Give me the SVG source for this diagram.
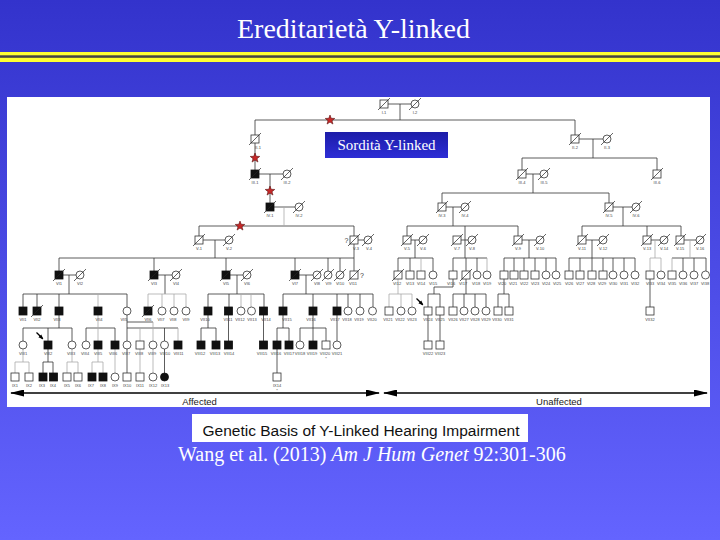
<svg xmlns="http://www.w3.org/2000/svg" width="720" height="540" viewBox="0 0 720 540">
<style>
.u{fill:#fff;stroke:#333;stroke-width:.8}
.f{fill:#111;stroke:#111;stroke-width:.8}
.cn{fill:none;stroke:#333;stroke-width:.8}
.lt{fill:none;stroke:#aaa;stroke-width:.8}
.lb{font-family:"Liberation Sans",Arial,sans-serif;font-size:4px;fill:#444;text-anchor:middle}
.q{font-family:"Liberation Sans",Arial,sans-serif;font-size:7px;fill:#333;text-anchor:middle}
.st{fill:#c62828;stroke:#5a0f0f;stroke-width:.6}
.ax{fill:none;stroke:#000;stroke-width:1.5}
.pb{fill:none;stroke:#000;stroke-width:1.3}
</style>
<defs>
<linearGradient id="bg" x1="0" y1="0" x2="0" y2="1"><stop offset="0" stop-color="#3333cc"/><stop offset="1" stop-color="#6464ff"/></linearGradient>
<linearGradient id="bx" x1="0" y1="0" x2="0" y2="1"><stop offset="0" stop-color="#1c1ca8"/><stop offset="1" stop-color="#2e2ed6"/></linearGradient>
<rect id="s" x="-4" y="-4" width="8" height="8"/>
<circle id="c" r="4"/>
<path id="d" d="M-6,6L6,-6" stroke="#222" stroke-width=".7" fill="none"/>
<path id="star" d="M0,-5L1.23,-1.7L4.76,-1.55L2,0.65L2.94,4.05L0,2.1L-2.94,4.05L-2,0.65L-4.76,-1.55L-1.23,-1.7Z"/>
<marker id="ah" viewBox="0 0 14 7" refX="13" refY="3.5" markerWidth="14" markerHeight="7" markerUnits="userSpaceOnUse" orient="auto-start-reverse"><path d="M0,0L14,3.5L0,7Z" fill="#000"/></marker>
<marker id="pa" viewBox="0 0 6 5" refX="5" refY="2.5" markerWidth="5" markerHeight="4.5" markerUnits="userSpaceOnUse" orient="auto"><path d="M0,0L6,2.5L0,5Z" fill="#000"/></marker>
</defs>
<rect x="0" y="0" width="720" height="540" fill="url(#bg)"/>
<text x="353.5" y="38" font-family="Liberation Serif, serif" font-size="28" fill="#fff" text-anchor="middle">Ereditarietà Y-linked</text>
<rect x="0" y="52" width="720" height="10" fill="#ffff33"/>
<rect x="0" y="55.3" width="720" height="2.5" fill="#444"/>
<rect x="7" y="97" width="703" height="310" fill="#fff"/>

<g id="connectors">
<path class="cn" d="M388,104H411M400,104V120M255,120H575M255,120V135M575,120V135
M255,143V170M579,139H603M593,139V158M522,158H657M522,158V170M657,158V170
M259,174H283M270,174V203M526,174H540M533,174V193M442,193H609M442,193V203M609,193V203
M274,207H295M199,226H354M199,226V236M354,226V236
M446,207H461M453,207V226M407,226H518M407,226V236M518,226V236M465,226V258
M613,207H632M623,207V226M582,226H681M582,226V236M647,226V236M681,226V236
M203,240H225M215,240V258M59,258H354M59,258V271M154,258V271M226,258V271M295,258V271M328,258V271M340,258V271
M358,240H364M354,244V271
M411,240H419M415,240V258M398,258H433M398,258V271M410,258V271M433,258V271
M461,240H468M453,258H487M453,258V271M466,258V271M477,258V271
M522,240H536M529,240V258M504,258H556M504,258V271M514,258V271M524,258V271M535,258V271M546,258V271M556,258V271
M586,240H599M592,240V258M569,258H635M569,258V271M580,258V271M592,258V271M603,258V271M613,258V271M624,258V271M635,258V271
M651,240H660M684,240H696M672,258H706M683,258V271M694,258V271M706,258V271
M63,275H76M69,275V294M23,294H127M23,294V307M37,294V307M59,294V307M127,294V307
M158,275H172M165,275V294
M230,275H243M237,275V294M208,294H264M208,294V307M229,294V307M264,294V307
M299,275H313M306,275V294M283,294H373M283,294V307M313,294V307M337,294V307M348,294V307M360,294V307M373,294V307
M453,279V287H434V294M428,294H440M428,294V307M440,294V307
M466,279V294M453,294H486M453,294V307M464,294V307M475,294V307M486,294V307
M504,279V294M498,294H509M498,294V307M509,294V307
M650,279V307
M59,315V328M23,328H72M23,328V341M48,328V341M72,328V341
M86,328H115M86,328V341M115,328V341
M127,315V341M127,322H153M127,328H178M164.5,328V341
M208,315V328M201,328H216M201,328V341M216,328V341
M228.5,315V341M263.5,315V341
M283,315V328M277,328H289M277,328V341M289,328V341
M313,315V328M300,328H326M300,328V341M313,328V341M326,328V341
M337,315V341M428,315V341M440,315V341
M48,349V362M43,362H53M43,362V373M53,362V373
M127,349V373M164.5,349V373M277,349V373"/>
<path class="lt" d="M284,207V226M421,258V271M487,258V271
M655,240V258M650,258H661M650,258V271M661,258V271M690,240V258M672,258V271
M98,294V307M98,315V341M148,294H186M148,294V307M162,294V307M174,294V307M186,294V307
M241,294V307M251,294V307
M398,279V294M389,294H412M389,294V307M401,294V307M412,294V307
M140,328V341M153,322V341M178,328V341
M23,349V362M15,362H29M15,362V373M29,362V373M72,349V362M67,362H78M67,362V373M78,362V373
M98,349V362M92,362H103M92,362V373M103,362V373M115,349V373M140,349V373M153,349V373"/>
</g>

<g id="stars" class="st">
<use href="#star" x="330" y="120"/>
<use href="#star" x="255" y="158"/>
<use href="#star" x="270" y="191"/>
<use href="#star" x="240" y="226"/>
</g>

<g id="nodes">
<g id="I-1"><use href="#s" x="384" y="104" class="u"/><use href="#d" x="384" y="104"/><text class="lb" x="384" y="113.5">I-1</text></g>
<g id="I-2"><use href="#c" x="415" y="104" class="u"/><use href="#d" x="415" y="104"/><text class="lb" x="415" y="113.5">I-2</text></g>
<g id="II-1"><use href="#s" x="255" y="139" class="u"/><use href="#d" x="255" y="139"/><text class="lb" x="258" y="148.5">II-1</text></g>
<g id="II-2"><use href="#s" x="575" y="139" class="u"/><use href="#d" x="575" y="139"/><text class="lb" x="575" y="148.5">II-2</text></g>
<g id="II-3"><use href="#c" x="607" y="139" class="u"/><use href="#d" x="607" y="139"/><text class="lb" x="607" y="148.5">II-3</text></g>
<g id="III-1"><use href="#s" x="255" y="174" class="f"/><use href="#d" x="255" y="174"/><text class="lb" x="255" y="183.5">III-1</text></g>
<g id="III-2"><use href="#c" x="287" y="174" class="u"/><use href="#d" x="287" y="174"/><text class="lb" x="287" y="183.5">III-2</text></g>
<g id="III-4"><use href="#s" x="522" y="174" class="u"/><use href="#d" x="522" y="174"/><text class="lb" x="522" y="183.5">III-4</text></g>
<g id="III-5"><use href="#c" x="544" y="174" class="u"/><use href="#d" x="544" y="174"/><text class="lb" x="544" y="183.5">III-5</text></g>
<g id="III-6"><use href="#s" x="657" y="174" class="u"/><use href="#d" x="657" y="174"/><text class="lb" x="657" y="183.5">III-6</text></g>
<g id="IV-1"><use href="#s" x="270" y="207" class="f"/><use href="#d" x="270" y="207"/><text class="lb" x="270" y="216.5">IV-1</text></g>
<g id="IV-2"><use href="#c" x="299" y="207" class="u"/><use href="#d" x="299" y="207"/><text class="lb" x="299" y="216.5">IV-2</text></g>
<g id="IV-3"><use href="#s" x="442" y="207" class="u"/><use href="#d" x="442" y="207"/><text class="lb" x="442" y="216.5">IV-3</text></g>
<g id="IV-4"><use href="#c" x="465" y="207" class="u"/><use href="#d" x="465" y="207"/><text class="lb" x="465" y="216.5">IV-4</text></g>
<g id="IV-5"><use href="#s" x="609" y="207" class="u"/><use href="#d" x="609" y="207"/><text class="lb" x="609" y="216.5">IV-5</text></g>
<g id="IV-6"><use href="#c" x="636" y="207" class="u"/><use href="#d" x="636" y="207"/><text class="lb" x="636" y="216.5">IV-6</text></g>
<g id="V-1"><use href="#s" x="199" y="240" class="u"/><use href="#d" x="199" y="240"/><text class="lb" x="199" y="249.5">V-1</text></g>
<g id="V-2"><use href="#c" x="229" y="240" class="u"/><use href="#d" x="229" y="240"/><text class="lb" x="229" y="249.5">V-2</text></g>
<g id="V-3"><use href="#s" x="354" y="240" class="u"/><use href="#d" x="354" y="240"/><text class="q" x="346.5" y="243">?</text><text class="lb" x="356" y="249.5">V-3</text></g>
<g id="V-4"><use href="#c" x="368" y="240" class="u"/><use href="#d" x="368" y="240"/><text class="lb" x="369" y="249.5">V-4</text></g>
<g id="V-5"><use href="#s" x="407" y="240" class="u"/><use href="#d" x="407" y="240"/><text class="lb" x="407" y="249.5">V-5</text></g>
<g id="V-6"><use href="#c" x="423" y="240" class="u"/><use href="#d" x="423" y="240"/><text class="lb" x="423" y="249.5">V-6</text></g>
<g id="V-7"><use href="#s" x="457" y="240" class="u"/><use href="#d" x="457" y="240"/><text class="lb" x="457" y="249.5">V-7</text></g>
<g id="V-8"><use href="#c" x="472" y="240" class="u"/><use href="#d" x="472" y="240"/><text class="lb" x="472" y="249.5">V-8</text></g>
<g id="V-9"><use href="#s" x="518" y="240" class="u"/><use href="#d" x="518" y="240"/><text class="lb" x="518" y="249.5">V-9</text></g>
<g id="V-10"><use href="#c" x="540" y="240" class="u"/><use href="#d" x="540" y="240"/><text class="lb" x="540" y="249.5">V-10</text></g>
<g id="V-11"><use href="#s" x="582" y="240" class="u"/><use href="#d" x="582" y="240"/><text class="lb" x="582" y="249.5">V-11</text></g>
<g id="V-12"><use href="#c" x="603" y="240" class="u"/><use href="#d" x="603" y="240"/><text class="lb" x="603" y="249.5">V-12</text></g>
<g id="V-13"><use href="#s" x="647" y="240" class="u"/><use href="#d" x="647" y="240"/><text class="lb" x="647" y="249.5">V-13</text></g>
<g id="V-14"><use href="#c" x="664" y="240" class="u"/><use href="#d" x="664" y="240"/><text class="lb" x="664" y="249.5">V-14</text></g>
<g id="V-15"><use href="#s" x="680" y="240" class="u"/><use href="#d" x="680" y="240"/><text class="lb" x="680" y="249.5">V-15</text></g>
<g id="V-16"><use href="#c" x="700" y="240" class="u"/><use href="#d" x="700" y="240"/><text class="lb" x="700" y="249.5">V-16</text></g>

<g id="VI-1"><use href="#s" x="59" y="275" class="f"/><use href="#d" x="59" y="275"/><text class="lb" x="59" y="284.5">VI1</text></g>
<g id="VI-2"><use href="#c" x="80" y="275" class="u"/><use href="#d" x="80" y="275"/><text class="lb" x="80" y="284.5">VI2</text></g>
<g id="VI-3"><use href="#s" x="154" y="275" class="f"/><use href="#d" x="154" y="275"/><text class="lb" x="154" y="284.5">VI3</text></g>
<g id="VI-4"><use href="#c" x="176" y="275" class="u"/><use href="#d" x="176" y="275"/><text class="lb" x="176" y="284.5">VI4</text></g>
<g id="VI-5"><use href="#s" x="226" y="275" class="f"/><use href="#d" x="226" y="275"/><text class="lb" x="226" y="284.5">VI5</text></g>
<g id="VI-6"><use href="#c" x="247" y="275" class="u"/><use href="#d" x="247" y="275"/><text class="lb" x="247" y="284.5">VI6</text></g>
<g id="VI-7"><use href="#s" x="295" y="275" class="f"/><use href="#d" x="295" y="275"/><text class="lb" x="295" y="284.5">VI7</text></g>
<g id="VI-8"><use href="#c" x="317" y="275" class="u"/><use href="#d" x="317" y="275"/><text class="lb" x="317" y="284.5">VI8</text></g>
<g id="VI-9"><use href="#c" x="328" y="275" class="u"/><use href="#d" x="328" y="275"/><text class="lb" x="328.5" y="284.5">VI9</text></g>
<g id="VI-10"><use href="#c" x="340" y="275" class="u"/><use href="#d" x="340" y="275"/><text class="lb" x="340" y="284.5">VI10</text></g>
<g id="VI-11"><use href="#s" x="354" y="275" class="u"/><use href="#d" x="354" y="275"/><text class="q" x="362" y="278">?</text><text class="lb" x="353" y="284.5">VI11</text></g>
<g id="VI-12"><use href="#s" x="398" y="275" class="u"/><use href="#d" x="398" y="275"/><text class="lb" x="397" y="284.5">VI12</text></g>
<g id="VI-13"><use href="#s" x="410" y="275" class="u"/><text class="lb" x="410" y="284.5">VI13</text></g>
<g id="VI-14"><use href="#s" x="421" y="275" class="u"/><text class="lb" x="421" y="284.5">VI14</text></g>
<g id="VI-15"><use href="#c" x="433" y="275" class="u"/><text class="lb" x="433" y="284.5">VI15</text></g>
<g id="VI-16"><use href="#s" x="453" y="275" class="u"/><text class="lb" x="451" y="284.5">VI16</text></g>
<g id="VI-17"><use href="#s" x="466" y="275" class="u"/><use href="#d" x="466" y="275"/><text class="lb" x="463" y="284.5">VI17</text></g>
<g id="VI-18"><use href="#c" x="477" y="275" class="u"/><text class="lb" x="476" y="284.5">VI18</text></g>
<g id="VI-19"><use href="#c" x="487" y="275" class="u"/><text class="lb" x="487" y="284.5">VI19</text></g>
<g id="VI-20"><use href="#s" x="504" y="275" class="u"/><text class="lb" x="502" y="284.5">VI20</text></g>
<g id="VI-21"><use href="#s" x="514" y="275" class="u"/><text class="lb" x="513" y="284.5">VI21</text></g>
<g id="VI-22"><use href="#s" x="524" y="275" class="u"/><text class="lb" x="524" y="284.5">VI22</text></g>
<g id="VI-23"><use href="#s" x="535" y="275" class="u"/><text class="lb" x="535" y="284.5">VI23</text></g>
<g id="VI-24"><use href="#c" x="546" y="275" class="u"/><text class="lb" x="546" y="284.5">VI24</text></g>
<g id="VI-25"><use href="#c" x="556" y="275" class="u"/><text class="lb" x="557" y="284.5">VI25</text></g>
<g id="VI-26"><use href="#s" x="569" y="275" class="u"/><text class="lb" x="569" y="284.5">VI26</text></g>
<g id="VI-27"><use href="#s" x="580" y="275" class="u"/><text class="lb" x="580" y="284.5">VI27</text></g>
<g id="VI-28"><use href="#s" x="592" y="275" class="u"/><text class="lb" x="591" y="284.5">VI28</text></g>
<g id="VI-29"><use href="#s" x="603" y="275" class="u"/><text class="lb" x="602" y="284.5">VI29</text></g>
<g id="VI-30"><use href="#c" x="613" y="275" class="u"/><text class="lb" x="613" y="284.5">VI30</text></g>
<g id="VI-31"><use href="#c" x="624" y="275" class="u"/><text class="lb" x="624" y="284.5">VI31</text></g>
<g id="VI-32"><use href="#c" x="635" y="275" class="u"/><text class="lb" x="635" y="284.5">VI32</text></g>
<g id="VI-33"><use href="#s" x="650" y="275" class="u"/><text class="lb" x="650" y="284.5">VI33</text></g>
<g id="VI-34"><use href="#c" x="661" y="275" class="u"/><text class="lb" x="661" y="284.5">VI34</text></g>
<g id="VI-35"><use href="#s" x="672" y="275" class="u"/><text class="lb" x="672" y="284.5">VI35</text></g>
<g id="VI-36"><use href="#c" x="683" y="275" class="u"/><text class="lb" x="683" y="284.5">VI36</text></g>
<g id="VI-37"><use href="#c" x="694" y="275" class="u"/><text class="lb" x="694" y="284.5">VI37</text></g>
<g id="VI-38"><use href="#c" x="705.5" y="275" class="u"/><text class="lb" x="705" y="284.5">VI38</text></g>

<g id="VII-1"><use href="#s" x="23" y="311" class="f"/><text class="lb" x="23" y="320.5">VII1</text></g>
<g id="VII-2"><use href="#s" x="37" y="311" class="f"/><use href="#d" x="37" y="311"/><text class="lb" x="37" y="320.5">VII2</text></g>
<g id="VII-3"><use href="#s" x="59" y="311" class="f"/><text class="lb" x="57" y="320.5">VII3</text></g>
<g id="VII-4"><use href="#s" x="98" y="311" class="f"/><text class="lb" x="99" y="320.5">VII4</text></g>
<g id="VII-5"><use href="#c" x="127" y="311" class="u"/><text class="lb" x="124" y="320.5">VII5</text></g>
<g id="VII-6"><use href="#s" x="148" y="311" class="f"/><use href="#d" x="148" y="311"/><text class="lb" x="148" y="320.5">VII6</text></g>
<g id="VII-7"><use href="#c" x="162" y="311" class="u"/><text class="lb" x="161" y="320.5">VII7</text></g>
<g id="VII-8"><use href="#c" x="174" y="311" class="u"/><text class="lb" x="173" y="320.5">VII8</text></g>
<g id="VII-9"><use href="#c" x="186" y="311" class="u"/><text class="lb" x="186" y="320.5">VII9</text></g>
<g id="VII-10"><use href="#s" x="208" y="311" class="f"/><text class="lb" x="205" y="320.5">VII10</text></g>
<g id="VII-11"><use href="#s" x="228.5" y="311" class="f"/><text class="lb" x="228" y="320.5">VII11</text></g>
<g id="VII-12"><use href="#c" x="241" y="311" class="u"/><text class="lb" x="240" y="320.5">VII12</text></g>
<g id="VII-13"><use href="#c" x="251.5" y="311" class="u"/><text class="lb" x="252" y="320.5">VII13</text></g>
<g id="VII-14"><use href="#s" x="263.5" y="311" class="f"/><text class="lb" x="266" y="320.5">VII14</text></g>
<g id="VII-15"><use href="#s" x="283" y="311" class="f"/><text class="lb" x="287" y="320.5">VII15</text></g>
<g id="VII-16"><use href="#s" x="313" y="311" class="f"/><text class="lb" x="311" y="320.5">VII16</text></g>
<g id="VII-17"><use href="#s" x="337" y="311" class="f"/><text class="lb" x="335" y="320.5">VII17</text></g>
<g id="VII-18"><use href="#c" x="348" y="311" class="u"/><text class="lb" x="347" y="320.5">VII18</text></g>
<g id="VII-19"><use href="#c" x="360" y="311" class="u"/><text class="lb" x="359" y="320.5">VII19</text></g>
<g id="VII-20"><use href="#c" x="372.5" y="311" class="u"/><text class="lb" x="372" y="320.5">VII20</text></g>
<g id="VII-21"><use href="#s" x="389" y="311" class="u"/><text class="lb" x="388" y="320.5">VII21</text></g>
<g id="VII-22"><use href="#c" x="401" y="311" class="u"/><text class="lb" x="400" y="320.5">VII22</text></g>
<g id="VII-23"><use href="#c" x="412" y="311" class="u"/><text class="lb" x="412" y="320.5">VII23</text></g>
<g id="VII-24"><use href="#s" x="428" y="311" class="u"/><text class="lb" x="428" y="320.5">VII24</text></g>
<g id="VII-25"><use href="#s" x="440" y="311" class="u"/><text class="lb" x="440" y="320.5">VII25</text></g>
<g id="VII-26"><use href="#s" x="453" y="311" class="u"/><text class="lb" x="453" y="320.5">VII26</text></g>
<g id="VII-27"><use href="#c" x="464" y="311" class="u"/><text class="lb" x="464" y="320.5">VII27</text></g>
<g id="VII-28"><use href="#c" x="475" y="311" class="u"/><text class="lb" x="475" y="320.5">VII28</text></g>
<g id="VII-29"><use href="#c" x="486" y="311" class="u"/><text class="lb" x="486" y="320.5">VII29</text></g>
<g id="VII-30"><use href="#s" x="498" y="311" class="u"/><text class="lb" x="497" y="320.5">VII30</text></g>
<g id="VII-31"><use href="#s" x="509" y="311" class="u"/><text class="lb" x="509" y="320.5">VII31</text></g>
<g id="VII-32"><use href="#s" x="650" y="311" class="u"/><text class="lb" x="650" y="320.5">VII32</text></g>

<g id="VIII-1"><use href="#c" x="23" y="345" class="u"/><text class="lb" x="23" y="354.5">VIII1</text></g>
<g id="VIII-2"><use href="#s" x="48" y="345" class="f"/><text class="lb" x="48" y="354.5">VIII2</text></g>
<g id="VIII-3"><use href="#c" x="72" y="345" class="u"/><text class="lb" x="71" y="354.5">VIII3</text></g>
<g id="VIII-4"><use href="#c" x="86" y="345" class="u"/><text class="lb" x="85" y="354.5">VIII4</text></g>
<g id="VIII-5"><use href="#s" x="98" y="345" class="f"/><text class="lb" x="98" y="354.5">VIII5</text></g>
<g id="VIII-6"><use href="#s" x="115" y="345" class="f"/><text class="lb" x="113" y="354.5">VIII6</text></g>
<g id="VIII-7"><use href="#c" x="127" y="345" class="u"/><text class="lb" x="126" y="354.5">VIII7</text></g>
<g id="VIII-8"><use href="#s" x="140" y="345" class="u"/><text class="lb" x="139" y="354.5">VIII8</text></g>
<g id="VIII-9"><use href="#c" x="153" y="345" class="u"/><text class="lb" x="152" y="354.5">VIII9</text></g>
<g id="VIII-10"><use href="#c" x="164.5" y="345" class="u"/><text class="lb" x="165" y="354.5">VIII10</text></g>
<g id="VIII-11"><use href="#s" x="178" y="345" class="f"/><text class="lb" x="178.5" y="354.5">VIII11</text></g>
<g id="VIII-12"><use href="#s" x="201" y="345" class="f"/><text class="lb" x="200" y="354.5">VIII12</text></g>
<g id="VIII-13"><use href="#s" x="216" y="345" class="f"/><text class="lb" x="215" y="354.5">VIII13</text></g>
<g id="VIII-14"><use href="#s" x="228.5" y="345" class="f"/><text class="lb" x="229" y="354.5">VIII14</text></g>
<g id="VIII-15"><use href="#s" x="263.5" y="345" class="f"/><text class="lb" x="262" y="354.5">VIII15</text></g>
<g id="VIII-16"><use href="#s" x="277" y="345" class="f"/><text class="lb" x="276" y="354.5">VIII16</text></g>
<g id="VIII-17"><use href="#s" x="289" y="345" class="f"/><text class="lb" x="289" y="354.5">VIII17</text></g>
<g id="VIII-18"><use href="#c" x="300" y="345" class="u"/><text class="lb" x="300" y="354.5">VIII18</text></g>
<g id="VIII-19"><use href="#s" x="313" y="345" class="f"/><text class="lb" x="312" y="354.5">VIII19</text></g>
<g id="VIII-20"><use href="#s" x="326" y="345" class="u"/><text class="lb" x="325" y="354.5">VIII20</text><text class="lb" x="326" y="360">*</text></g>
<g id="VIII-21"><use href="#c" x="337" y="345" class="u"/><text class="lb" x="337" y="354.5">VIII21</text></g>
<g id="VIII-22"><use href="#s" x="428" y="345" class="u"/><text class="lb" x="428" y="354.5">VIII22</text></g>
<g id="VIII-23"><use href="#s" x="440" y="345" class="u"/><text class="lb" x="440" y="354.5">VIII23</text></g>

<g id="IX-1"><use href="#s" x="15" y="377" class="u"/><text class="lb" x="15" y="386.5">IX1</text></g>
<g id="IX-2"><use href="#s" x="29" y="377" class="u"/><text class="lb" x="29" y="386.5">IX2</text></g>
<g id="IX-3"><use href="#s" x="43" y="377" class="f"/><text class="lb" x="42" y="386.5">IX3</text></g>
<g id="IX-4"><use href="#s" x="53.5" y="377" class="f"/><text class="lb" x="53" y="386.5">IX4</text></g>
<g id="IX-5"><use href="#s" x="67" y="377" class="u"/><text class="lb" x="67" y="386.5">IX5</text></g>
<g id="IX-6"><use href="#s" x="78" y="377" class="u"/><text class="lb" x="78" y="386.5">IX6</text></g>
<g id="IX-7"><use href="#s" x="92" y="377" class="f"/><text class="lb" x="91" y="386.5">IX7</text></g>
<g id="IX-8"><use href="#s" x="103" y="377" class="f"/><text class="lb" x="103" y="386.5">IX8</text></g>
<g id="IX-9"><use href="#c" x="115" y="377" class="u"/><text class="lb" x="115" y="386.5">IX9</text></g>
<g id="IX-10"><use href="#s" x="127" y="377" class="u"/><text class="lb" x="127" y="386.5">IX10</text></g>
<g id="IX-11"><use href="#s" x="140" y="377" class="u"/><text class="lb" x="140" y="386.5">IX11</text></g>
<g id="IX-12"><use href="#c" x="153" y="377" class="u"/><text class="lb" x="153" y="386.5">IX12</text></g>
<g id="IX-13"><use href="#c" x="164.5" y="377" class="f"/><text class="lb" x="165" y="386.5">IX13</text></g>
<g id="IX-14"><use href="#s" x="277" y="377" class="u"/><text class="lb" x="277" y="386.5">IX14</text><text class="lb" x="277" y="392">*</text></g>
</g>

<g id="annotations">
<path class="pb" d="M36.5,332.5L42.8,338.8" marker-end="url(#pa)"/>
<path class="pb" d="M416.5,298.5L422.8,304.8" marker-end="url(#pa)"/>
<path class="ax" d="M11,393H379" marker-start="url(#ah)" marker-end="url(#ah)"/>
<path class="ax" d="M384,393H707" marker-start="url(#ah)" marker-end="url(#ah)"/>
<text x="199.5" y="405" font-family="Liberation Sans, Arial, sans-serif" font-size="9.5" fill="#222" text-anchor="middle">Affected</text>
<text x="559" y="405" font-family="Liberation Sans, Arial, sans-serif" font-size="9.5" fill="#222" text-anchor="middle">Unaffected</text>
</g>

<g id="box-sordita">
<rect x="325" y="132" width="123" height="26" fill="url(#bx)"/>
<text x="386.5" y="150" font-family="Liberation Serif, serif" font-size="15" fill="#fff" text-anchor="middle">Sordità Y-linked</text>
</g>
<g id="box-title">
<rect x="192" y="414" width="336" height="28" fill="#fff"/>
<text x="361" y="435.5" font-family="Liberation Sans, Arial, sans-serif" font-size="15.5" fill="#111" text-anchor="middle">Genetic Basis of Y-Linked Hearing Impairment</text>
</g>
<text x="178" y="461" font-family="Liberation Serif, serif" font-size="20" fill="#fff">Wang et al. (2013) <tspan font-style="italic">Am J Hum Genet</tspan> 92:301-306</text>
</svg>
